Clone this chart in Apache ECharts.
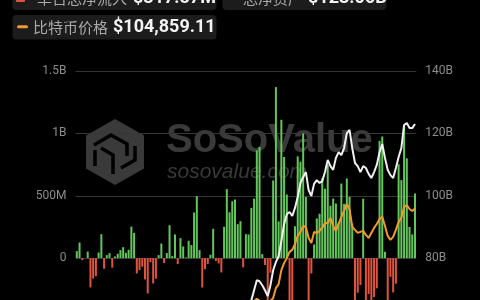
<!DOCTYPE html>
<html><head><meta charset="utf-8">
<script src="https://cdn.jsdelivr.net/npm/echarts@6/dist/echarts.min.js"></script>
<style>html,body{margin:0;padding:0;background:#000;}#c{width:480px;height:300px;}</style>
</head><body><div id="c"></div>
<script>
const dates = ['07-26','07-29','07-30','07-31','08-01','08-02','08-05','08-06','08-07','08-08','08-09','08-12','08-13','08-14','08-15','08-16','08-19','08-20','08-21','08-22','08-23','08-26','08-27','08-28','08-29','08-30','09-03','09-04','09-05','09-06','09-09','09-10','09-11','09-12','09-13','09-16','09-17','09-18','09-19','09-20','09-23','09-24','09-25','09-26','09-27','09-30','10-01','10-02','10-03','10-04','10-07','10-08','10-09','10-10','10-11','10-14','10-15','10-16','10-17','10-18','10-21','10-22','10-23','10-24','10-25','10-28','10-29','10-30','10-31','11-01','11-04','11-05','11-06','11-07','11-08','11-11','11-12','11-13','11-14','11-15','11-18','11-19','11-20','11-21','11-22','11-25','11-26','11-27','11-29','12-02','12-03','12-04','12-05','12-06','12-09','12-10','12-11','12-12','12-13','12-16','12-17','12-18','12-19','12-20','12-23','12-24','12-26','12-27','12-30','12-31','01-02','01-03','01-06','01-07','01-08','01-10','01-13','01-14','01-15','01-16','01-17','01-21','01-22','01-23','01-24'];

// daily total net inflow, millions USD
const netInflowM = [56,125,-16,0,53,-235,-163,-144,45,192,-85,24,40,-77,13,35,64,88,43,67,253,203,-123,-96,-69,-171,-283,-32,-203,-165,24,117,-40,40,264,16,190,-48,160,93,5,139,104,366,497,64,-235,-88,-48,27,235,-24,-43,-115,251,553,368,456,470,272,296,-75,192,190,403,477,864,891,32,-55,-541,-117,622,1371,294,1109,811,510,-401,-371,255,816,773,1000,491,-438,-123,110,318,356,640,557,750,420,478,438,280,598,435,638,491,277,-672,-277,-215,476,-338,-288,-426,-312,-242,940,975,51,-569,-150,-275,-205,753,625,1060,800,250,190,518];

// total net assets, billions USD
const totalAssetsB = [61.0,61.5,60.6,59.6,60.0,56.5,51.0,52.7,51.0,55.9,55.1,54.2,55.8,54.4,52.9,54.2,54.4,54.6,56.4,55.3,58.8,58.1,54.4,54.3,54.1,53.0,52.6,51.3,50.7,47.9,50.6,51.4,52.0,52.7,54.2,53.2,53.8,54.1,57.5,57.2,57.9,58.9,58.0,59.6,60.2,58.4,55.6,55.8,55.6,57.4,57.6,57.6,56.0,55.9,58.3,61.6,61.5,63.2,63.5,64.3,64.5,63.8,62.6,64.3,66.5,69.7,72.9,72.6,71.3,69.7,67.8,71.3,76.1,78.7,80.6,85.5,90.9,94.1,94.8,93.5,96.1,99.6,104.1,106.0,107.6,101.8,99.9,103.8,105.0,104.1,104.7,107.6,111.5,109.5,108.3,112.1,114.0,113.0,115.3,120.1,121.1,115.3,110.5,109.5,107.6,109.5,108.9,107.0,105.7,107.6,109.9,114.0,116.6,112.1,108.3,106.6,105.7,108.9,112.4,115.3,122.7,123.3,121.7,121.7,123.0];

// BTC price, USD
const btcPrice = [67000,66800,66200,64600,65400,61400,54000,56000,55000,61700,60900,59400,60600,58700,57600,58900,59400,59000,61200,60400,64100,62900,59500,59000,59400,59000,57500,58000,56200,54000,57000,57600,57300,58100,60600,58200,60300,61800,63200,62900,63300,64300,63100,65200,65800,63300,60800,60600,60800,62100,62200,62100,60600,60300,62500,66000,67000,67600,67400,67800,67400,67400,66700,67300,66600,67800,68700,67900,67500,67000,66500,67800,69000,73000,74600,80200,83000,85000,87500,88300,90700,93900,95500,97900,97500,93100,91100,95500,95100,95900,97100,99100,99100,101100,97900,95900,98700,101500,103900,106700,104700,97500,96300,95100,95500,95900,94300,93100,95100,97100,98700,100700,101600,97900,93900,92300,93500,96300,99500,101100,105500,106300,104700,103900,104900];

const leftTicksM = [-500, 1500, 500];   // min, max, interval
const rightTicksB = [60, 140, 20];
const priceRange = [60000, 160000];

const GREEN = '#62c65b', RED = '#e0533d';
const chart = echarts.init(document.getElementById('c'), null, {renderer:'canvas'});

const wm = '#3a3a3a';
const hc = [115, 152];
function P(dx, dy){ return [hc[0]+dx, hc[1]+dy]; }

chart.setOption({
  backgroundColor: '#000',
  animation: false,
  grid: {left: 75.45, right: 63.65, top: 71, bottom: -20.5, containLabel: false, outerBoundsMode: 'none'},
  xAxis: {
    type: 'category', data: dates, boundaryGap: true,
    axisLine: {show: false}, axisTick: {show: false}, axisLabel: {show: false}, splitLine: {show: false}
  },
  yAxis: [
    {
      type: 'value', position: 'left',
      min: leftTicksM[0], max: leftTicksM[1], interval: leftTicksM[2],
      axisLine: {show: false}, axisTick: {show: false},
      splitLine: {show: true, lineStyle: {color: '#363636', width: 1}},
      axisLabel: {
        color: '#8c8c8c', fontSize: 12, fontFamily: 'Roboto', margin: 9,
        formatter: v => v === 0 ? '0' : (Math.abs(v) >= 1000 ? (v/1000) + 'B' : v + 'M')
      }
    },
    {
      type: 'value', position: 'right',
      min: rightTicksB[0], max: rightTicksB[1], interval: rightTicksB[2],
      axisLine: {show: false}, axisTick: {show: false}, splitLine: {show: false},
      axisLabel: {color: '#8c8c8c', fontSize: 12, fontFamily: 'Roboto', margin: 9, formatter: v => v + 'B'}
    },
    {
      type: 'value', show: false, min: priceRange[0], max: priceRange[1]
    }
  ],
  graphic: [
    {type: 'polygon', z: 0, shape: {points: [P(0,-33),P(29,-16.5),P(29,16.5),P(0,33),P(-29,16.5),P(-29,-16.5)]}, style: {fill: wm}},
    {type: 'polyline', z: 1, shape: {points: [P(-21,-7),P(-4,-17),P(12,-8),P(12,4)]}, style: {stroke: '#000', lineWidth: 3.5, fill: null}},
    {type: 'polyline', z: 1, shape: {points: [P(-20,-2),P(-20,14)]}, style: {stroke: '#000', lineWidth: 3.5, fill: null}},
    {type: 'polyline', z: 1, shape: {points: [P(-14,-4),P(-2,3),P(-2,22)]}, style: {stroke: '#000', lineWidth: 3.5, fill: null}},
    {type: 'polyline', z: 1, shape: {points: [P(6,16),P(20,8),P(20,-6)]}, style: {stroke: '#000', lineWidth: 3.5, fill: null}},
    {type: 'text', z: 0, style: {text: 'SoSoValue', x: 166, y: 141, font: 'bold 40px "Liberation Sans"', fill: wm, verticalAlign: 'middle'}},
    {type: 'text', z: 0, style: {text: 'sosovalue.com', x: 167, y: 172, font: 'italic 21px "Liberation Sans"', fill: wm, verticalAlign: 'middle'}},
    {type: 'rect', z: 100, shape: {x: 12.5, y: -14, width: 204, height: 24, r: 4}, style: {fill: '#1c1c1c'}},
    {type: 'rect', z: 101, shape: {x: 16, y: -7, width: 9, height: 9, r: 1}, style: {fill: RED}},
    {type: 'text', z: 101, style: {text: '单日总净流入', x: 37, y: -2, font: '15px "Noto Sans CJK SC"', fill: '#a8a8a8', verticalAlign: 'middle'}},
    {type: 'text', z: 101, style: {text: '$317.87M', x: 133, y: -2, font: 'bold 18px Roboto', fill: '#f2f2f2', verticalAlign: 'middle'}},
    {type: 'rect', z: 100, shape: {x: 222.5, y: -14, width: 164, height: 24, r: 4}, style: {fill: '#1c1c1c'}},
    {type: 'text', z: 101, style: {text: '总净资产', x: 243, y: -2, font: '15px "Noto Sans CJK SC"', fill: '#a8a8a8', verticalAlign: 'middle'}},
    {type: 'text', z: 101, style: {text: '$123.06B', x: 308, y: -2, font: 'bold 18px Roboto', fill: '#f2f2f2', verticalAlign: 'middle'}},
    {type: 'rect', z: 100, shape: {x: 12.5, y: 15, width: 204, height: 24.5, r: 4}, style: {fill: '#1c1c1c'}},
    {type: 'rect', z: 101, shape: {x: 17, y: 25.3, width: 11, height: 3, r: 1.5}, style: {fill: '#f09a2a'}},
    {type: 'text', z: 101, style: {text: '比特币价格', x: 33, y: 27, font: '15px "Noto Sans CJK SC"', fill: '#a8a8a8', verticalAlign: 'middle'}},
    {type: 'text', z: 101, style: {text: '$104,859.11', x: 113, y: 27, font: 'bold 18px Roboto', fill: '#f2f2f2', verticalAlign: 'middle'}}
  ],
  series: [
    {
      type: 'bar', name: '单日总净流入', yAxisIndex: 0, barWidth: 2, z: 2,
      data: netInflowM.map(v => ({value: v, itemStyle: {color: v >= 0 ? GREEN : RED}}))
    },
    {
      type: 'line', name: '比特币价格', yAxisIndex: 2, data: btcPrice, symbol: 'none', z: 3,
      lineStyle: {color: '#f09a2a', width: 2}
    },
    {
      type: 'line', name: '总净资产', yAxisIndex: 1, data: totalAssetsB, symbol: 'none', z: 4,
      lineStyle: {color: '#f0f0f0', width: 2}
    }
  ]
});
</script>
</body></html>
